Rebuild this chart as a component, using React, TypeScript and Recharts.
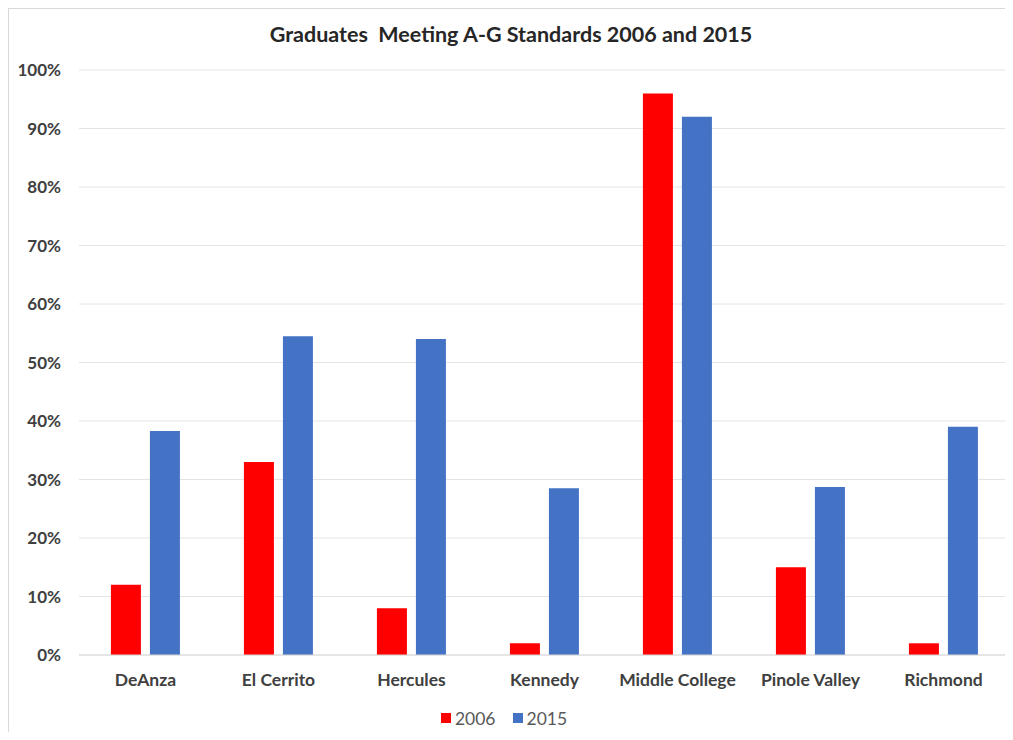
import { BarChart, Bar, XAxis, YAxis, CartesianGrid, Legend } from 'recharts';

const schools = ['DeAnza', 'El Cerrito', 'Hercules', 'Kennedy', 'Middle College', 'Pinole Valley', 'Richmond'];
const values2006 = [0.12, 0.33, 0.08, 0.02, 0.96, 0.15, 0.02];
const values2015 = [0.383, 0.545, 0.54, 0.285, 0.92, 0.287, 0.39];
const yTicks = [0, 0.1, 0.2, 0.3, 0.4, 0.5, 0.6, 0.7, 0.8, 0.9, 1];

const data = schools.map((school, i) => ({
    school,
    y2006: values2006[i],
    y2015: values2015[i],
}));

const FONT = 'Lato, "Open Sans", sans-serif';

const renderLegend = () => (
    <div style={{ display: 'flex', justifyContent: 'center', gap: 17, height: 22, paddingRight: 14, fontFamily: FONT, fontSize: 17.5, color: '#595959' }}>
        <span style={{ display: 'flex', alignItems: 'center' }}>
            <span style={{ width: 10, height: 10, background: '#ff0000', marginRight: 4 }} />2006
        </span>
        <span style={{ display: 'flex', alignItems: 'center' }}>
            <span style={{ width: 10, height: 10, background: '#4472c4', marginRight: 4 }} />2015
        </span>
    </div>
);

const App = () => {
    return (
        <div style={{ position: 'relative', width: 1005, height: 724, borderLeft: '1px solid #d9d9d9', borderTop: '1px solid #d9d9d9', boxSizing: 'border-box', background: '#fff' }}>
            <div style={{ position: 'absolute', top: 12, left: 0, width: '100%', textAlign: 'center', fontFamily: FONT, fontWeight: 700, fontSize: 21.5, color: '#262626', whiteSpace: 'pre' }}>
                {'Graduates  Meeting A-G Standards 2006 and 2015'}
            </div>
            <BarChart width={1004} height={723} data={data} margin={{ top: 61, right: 3, bottom: 25, left: 0 }} barCategoryGap="24%" barGap={9}>
                <CartesianGrid vertical={false} stroke="#e4e4e4" />
                <XAxis dataKey="school" axisLine={{ stroke: '#d9d9d9' }} tickLine={false} tickSize={0} tickMargin={19}
                    tick={{ fontFamily: FONT, fontWeight: 700, fontSize: 17.5, fill: '#404040' }} />
                <YAxis domain={[0, 1]} ticks={yTicks} width={70} axisLine={false} tickLine={false} tickSize={0} tickMargin={18}
                    tickFormatter={(v: number) => `${Math.round(v * 100)}%`}
                    tick={{ fontFamily: FONT, fontWeight: 700, fontSize: 17, fill: '#404040' }} />
                <Legend content={renderLegend} wrapperStyle={{ top: 698, left: 0, width: '100%' }} />
                <Bar dataKey="y2006" name="2006" fill="#ff0000" isAnimationActive={false} />
                <Bar dataKey="y2015" name="2015" fill="#4472c4" isAnimationActive={false} />
            </BarChart>
        </div>
    );
};

export default App;
